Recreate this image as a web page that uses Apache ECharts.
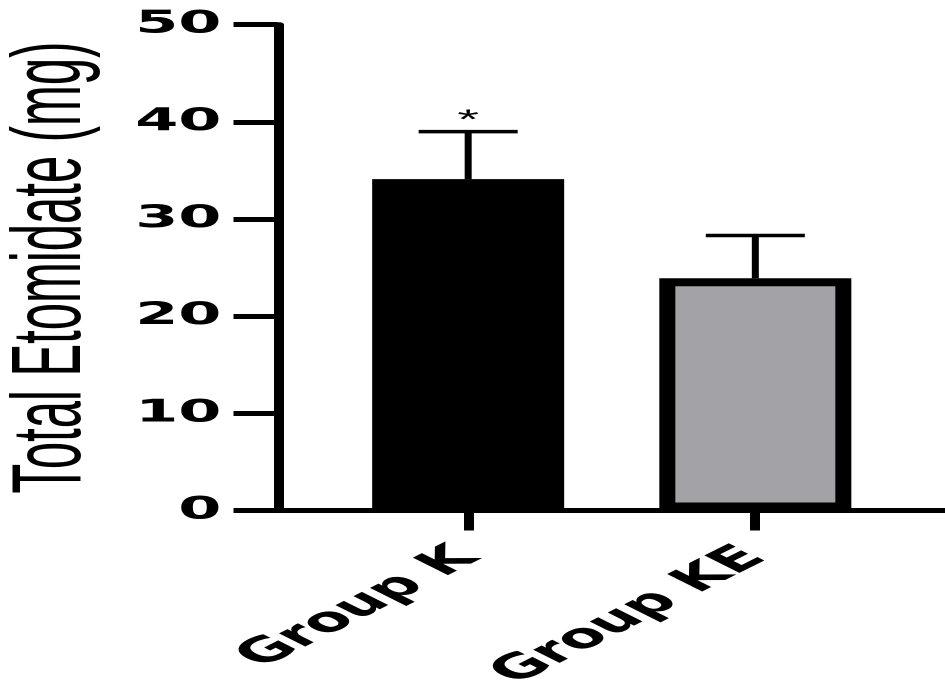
<!DOCTYPE html>
<html>
<head>
<meta charset="utf-8">
<script src="https://cdn.jsdelivr.net/npm/echarts@6/dist/echarts.min.js"></script>
<style>
  html, body { margin: 0; padding: 0; background: #fff; overflow: hidden; }
  #wrap { width: 945px; height: 689px; overflow: hidden; }
  /* the reference image is stretched 2x horizontally */
  #chart { width: 472.5px; height: 689px; transform: scaleX(2); transform-origin: 0 0; }
</style>
</head>
<body>
<div id="wrap"><div id="chart"></div></div>
<script>
// ---- data ----
const categories = ['Group K', 'Group KE'];
const means = [34.1, 23.9];
const errorTops = [39.0, 28.3];
const sigMarks = ['*', ''];
const barColors = ['#000000', '#a3a2a7'];
const yTicks = [0, 10, 20, 30, 40, 50];

const positions = categories.map((c, i) => i + 1);

const barData = positions.map((p, i) => ({
  value: [p, means[i]],
  itemStyle: { color: barColors[i], borderColor: '#000', borderWidth: 8 }
}));
const errData = positions.map((p, i) => [p, means[i], errorTops[i], sigMarks[i]]);

const chart = echarts.init(document.getElementById('chart'), null, { devicePixelRatio: 2 });
chart.setOption({
  animation: false,
  backgroundColor: '#fff',
  grid: { left: 138.75, right: 0, top: 24.7, bottom: 178.5, containLabel: false, outerBoundsMode: 'none' },
  xAxis: {
    type: 'value',
    min: 0.336,
    max: 2.664,
    splitLine: { show: false },
    axisLine: { show: true, lineStyle: { color: '#000', width: 5 } },
    axisTick: { show: true, customValues: positions, length: 20, lineStyle: { color: '#000', width: 5 } },
    axisLabel: {
      show: true,
      customValues: positions,
      formatter: v => categories[Math.round(v) - 1] || '',
      rotate: 45,
      margin: 42,
      color: '#000',
      fontFamily: 'DejaVu Sans',
      fontWeight: 'bold',
      fontSize: 34
    }
  },
  yAxis: {
    type: 'value',
    min: yTicks[0],
    max: yTicks[yTicks.length - 1],
    interval: 10,
    name: 'Total Etomidate (mg)',
    nameLocation: 'middle',
    nameRotate: 90,
    nameGap: 88,
    nameTextStyle: { color: '#000', fontFamily: 'Liberation Sans', fontSize: 49 },
    splitLine: { show: false },
    axisLine: { show: true, lineStyle: { color: '#000', width: 5 } },
    axisTick: { show: true, length: 22, lineStyle: { color: '#000', width: 5 } },
    axisLabel: {
      margin: 28,
      color: '#000',
      fontFamily: 'DejaVu Sans',
      fontWeight: 'bold',
      fontSize: 31
    }
  },
  series: [
    {
      type: 'bar',
      barWidth: 96,
      data: barData,
      z: 2
    },
    {
      type: 'custom',
      z: 3,
      data: errData,
      renderItem: function (params, api) {
        const x = api.value(0);
        const base = api.coord([x, api.value(1)]);
        const top = api.coord([x, api.value(2)]);
        const sig = errData[params.dataIndex][3];
        const style = { stroke: '#000', lineWidth: 3.5 };
        const children = [
          { type: 'line', shape: { x1: base[0], y1: base[1], x2: top[0], y2: top[1] }, style: style },
          { type: 'line', shape: { x1: top[0] - 24.75, y1: top[1], x2: top[0] + 24.75, y2: top[1] }, style: style }
        ];
        if (sig) {
          children.push({
            type: 'text',
            style: {
              text: sig, x: top[0], y: top[1] - 11,
              align: 'center', verticalAlign: 'middle',
              font: '28px "Liberation Sans"', fill: '#000'
            }
          });
        }
        return { type: 'group', children: children };
      }
    }
  ]
});
</script>
</body>
</html>
